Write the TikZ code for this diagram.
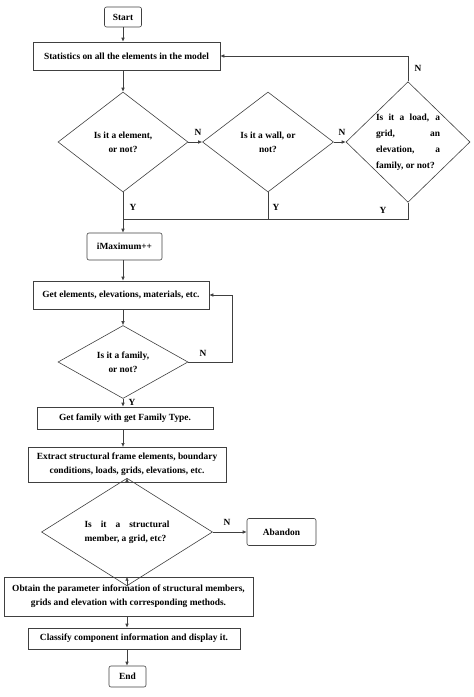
\documentclass[tikz,border=0pt]{standalone}
\usepackage{fontspec}
\setmainfont{Liberation Serif}
\usetikzlibrary{shapes.geometric,arrows.meta}
\newcommand{\linecol}{black!75}
\tikzset{
  every node/.style={font=\bfseries\fontsize{9.4}{14}\selectfont},
  process/.style={draw=\linecol, rectangle, inner sep=0pt, align=center},
  terminal/.style={process, rounded corners=2pt},
  decision/.style={draw=\linecol, diamond, inner sep=0pt, align=center},
  flow/.style={draw=\linecol, line width=0.6pt, -{Latex[length=4pt,width=3.5pt]}},
  plain/.style={draw=\linecol, line width=0.6pt},
}

\begin{document}
\begin{tikzpicture}[x=1pt, y=-1pt, line width=0.6pt]

    \useasboundingbox (0, 0) rectangle (474, 697);

    % top part: the three tests
    \node[terminal, minimum width=37, minimum height=20] (start) at (123, 17) {Start};
    \node[process, minimum width=187, minimum height=28] (stats) at (126.5, 56) {Statistics on all the elements in the model};

    \node[decision, minimum width=130, minimum height=100] (elem) at (123, 142) {Is it a element,\\or not?};
    \node[decision, minimum width=131, minimum height=100] (wall) at (268, 142) {Is it a wall, or\\not?};
    \node[decision, minimum width=124, minimum height=120, align=left,
      font=\bfseries\fontsize{9.4}{16}\selectfont] (load) at (408, 142)
      {\makebox[64pt][s]{Is it a load, a}\\\makebox[64pt][s]{grid, an}\\\makebox[64pt][s]{elevation, a}\\family, or not?};

    \node (n1) at (198, 132) {N};
    \node (n2) at (342, 132) {N};
    \node (n3) at (418, 68) {N};
    \node (y1) at (133, 207) {Y};
    \node (y2) at (276, 207) {Y};
    \node (y3) at (383, 210) {Y};

    \coordinate (ymerge) at (123, 219);

    \draw[flow] (start.south) -- (start.south |- stats.north);
    \draw[flow] (elem.north |- stats.south) -- (elem.north);
    \draw[flow] (elem.east) -- (wall.west);
    \draw[flow] (wall.east) -- (load.west);
    \draw[flow] (load.north) |- (stats.east);
    \draw[plain] (elem.south) -- (ymerge);
    \draw[plain] (wall.south) |- (ymerge);
    \draw[plain] (load.south) |- (ymerge);

    % middle part
    \node[terminal, minimum width=75, minimum height=27] (imax) at (124.5, 246.5) {iMaximum++};
    \node[process, minimum width=176, minimum height=28] (getel) at (121, 295) {Get elements, elevations, materials, etc.};
    \node[decision, minimum width=130, minimum height=62] (fam) at (123, 362) {Is it a family,\\or not?};
    \node[process, minimum width=176, minimum height=22] (getfam) at (125, 418) {Get family with get Family Type.};

    \node (n4) at (203, 353) {N};
    \node (y4) at (132, 402) {Y};

    \draw[flow] (ymerge) -- (ymerge |- imax.north);
    \draw[flow] (ymerge |- imax.south) -- (ymerge |- getel.north);
    \draw[flow] (fam.north |- getel.south) -- (fam.north);
    \draw[flow] (fam.east) -- ++(44, 0) |- (getel.east);
    \draw[flow] (fam.south) -- (fam.south |- getfam.north);

    % bottom part
    \node[process, minimum width=198, minimum height=35] (extract) at (127, 464.5) {Extract structural frame elements, boundary\\conditions, loads, grids, elevations, etc.};
    \node[decision, minimum width=171, minimum height=63, align=left] (struct) at (127, 532)
      {\makebox[85pt][s]{Is it a structural}\\member, a grid, etc?};
    \node[terminal, minimum width=69, minimum height=27] (abandon) at (281.5, 532) {Abandon};
    \node[process, minimum width=249, minimum height=39] (obtain) at (128.5, 596.5) {Obtain the parameter information of structural members,\\grids and elevation with corresponding methods.};
    \node[process, minimum width=212, minimum height=21] (classify) at (134, 638.5) {Classify component information and display it.};
    \node[terminal, minimum width=37, minimum height=21] (finish) at (127.5, 676.5) {End};

    \node (n5) at (227, 522) {N};

    \draw[flow] (123, 429) -- (123, 447);
    \draw[flow] (struct.north |- extract.south) -- (struct.north);
    \draw[flow] (struct.east) -- (abandon.west);
    \draw[flow] (struct.south) -- (struct.south |- obtain.north);
    \draw[flow] (struct.south |- obtain.south) -- (struct.south |- classify.north);
    \draw[flow] (struct.south |- classify.south) -- (struct.south |- finish.north);

  \end{tikzpicture}
\end{document}
